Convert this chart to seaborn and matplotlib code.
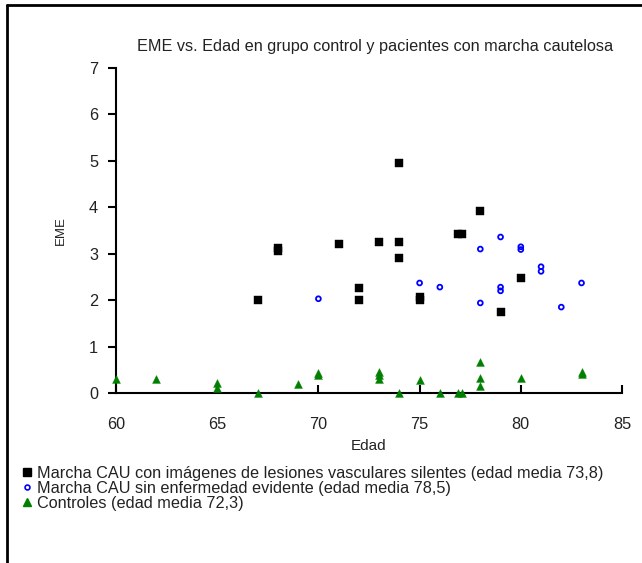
import matplotlib
matplotlib.use("Agg")
import matplotlib.pyplot as plt
import seaborn as sns
import pandas as pd
from matplotlib.lines import Line2D

sns.set_theme(style="white")
plt.rcParams['font.family'] = ['Liberation Sans', 'DejaVu Sans']

# Marcha CAU con lesiones vasculares silentes
cau_les_age = [67, 68, 68, 71, 72, 72, 73, 74, 74, 74, 75, 75, 76.9, 77.1, 78, 79, 80]
cau_les_eme = [2.0, 3.05, 3.12, 3.21, 2.26, 2.0, 3.25, 4.95, 3.25, 2.91, 2.0, 2.06, 3.42, 3.42, 3.93, 1.75, 2.47]

# Marcha CAU sin enfermedad evidente
cau_sin_age = [70, 75, 76, 78, 78, 79, 79, 79, 80, 80, 81, 81, 82, 83]
cau_sin_eme = [2.03, 2.37, 2.28, 3.1, 1.94, 3.36, 2.2, 2.28, 3.09, 3.15, 2.62, 2.72, 1.85, 2.37]

# Controles
ctrl_age = [60, 62, 65, 65, 67, 69, 70, 70, 73, 73, 73, 74, 75, 76, 76.9, 77.1, 78, 78, 78, 80, 83, 83]
ctrl_eme = [0.3, 0.3, 0.22, 0.1, 0.0, 0.2, 0.38, 0.44, 0.45, 0.38, 0.3, 0.0, 0.27, 0.0, 0.0, 0.0, 0.66, 0.32, 0.15, 0.32, 0.4, 0.45]

labels = [
    "Marcha CAU con imágenes de lesiones vasculares silentes (edad media 73,8)",
    "Marcha CAU sin enfermedad evidente (edad media 78,5)",
    "Controles (edad media 72,3)",
]
title = "EME vs. Edad en grupo control y pacientes con marcha cautelosa"

df = pd.DataFrame({
    "Edad": cau_les_age + cau_sin_age + ctrl_age,
    "EME": cau_les_eme + cau_sin_eme + ctrl_eme,
    "grupo": [labels[0]] * len(cau_les_age) + [labels[1]] * len(cau_sin_age) + [labels[2]] * len(ctrl_age),
})

TXT = "#222222"
FS = 11.7
fig = plt.figure(figsize=(6.42, 5.63), dpi=100)
fig.patch.set_facecolor("white")
ax = fig.add_axes([116 / 642, 1 - 393 / 563, 506 / 642, 325 / 563])

styles = {
    labels[0]: dict(marker="s", color="black", s=32, edgecolor="black", linewidth=0.3),
    labels[1]: dict(marker="o", color="none", s=12, edgecolor="#0000ff", linewidth=1.3),
    labels[2]: dict(marker="^", color="#008000", s=32, edgecolor="#008000", linewidth=0.3),
}
for lab in labels:
    sub = df[df["grupo"] == lab]
    st = styles[lab]
    sns.scatterplot(data=sub, x="Edad", y="EME", ax=ax, marker=st["marker"],
                    facecolor=st["color"], edgecolor=st["edgecolor"],
                    linewidth=st["linewidth"], s=st["s"], legend=False, zorder=3,
                    clip_on=False)

ax.set_xlim(60, 85)
ax.set_ylim(0, 7)
ax.set_xticks([60, 65, 70, 75, 80, 85])
ax.set_yticks(range(0, 8))
for side in ["top", "right"]:
    ax.spines[side].set_visible(False)
for side in ["left", "bottom"]:
    ax.spines[side].set_color("black")
    ax.spines[side].set_linewidth(1.5)
ax.tick_params(axis="x", direction="in", length=6, width=1.5, color="black",
               labelsize=FS, labelcolor=TXT, pad=17, bottom=True)
ax.tick_params(axis="y", direction="out", length=6, width=1.5, color="black",
               labelsize=FS, labelcolor=TXT, pad=7, left=True)
ax.set_xlabel("Edad", fontsize=11, color=TXT, labelpad=5)
ax.set_ylabel("EME", fontsize=9.5, color=TXT, labelpad=16)
ax.grid(False)

fig.text(375 / 642, 1 - 47 / 563, title, ha="center", va="center", fontsize=FS, color=TXT)

handles = [
    Line2D([], [], linestyle="none", marker="s", markersize=5.5, markerfacecolor="black", markeredgecolor="black"),
    Line2D([], [], linestyle="none", marker="o", markersize=3.5, markerfacecolor="none", markeredgecolor="#0000ff", markeredgewidth=1.2),
    Line2D([], [], linestyle="none", marker="^", markersize=5.5, markerfacecolor="#008000", markeredgecolor="#008000"),
]
fig.legend(handles, labels, loc="upper left", bbox_to_anchor=(22 / 642, 1 - 466 / 563),
           frameon=False, fontsize=FS, handlelength=0.6, handletextpad=0.35,
           labelspacing=0.0, borderpad=0, borderaxespad=0, labelcolor=TXT)

# figure frame (left and top edges visible)
fig.add_artist(Line2D([7 / 642, 7 / 642], [0, 1 - 5 / 563], color="black", linewidth=2, transform=fig.transFigure))
fig.add_artist(Line2D([7 / 642, 1], [1 - 5 / 563, 1 - 5 / 563], color="black", linewidth=2, transform=fig.transFigure))

fig.savefig("out.png", dpi=100)
